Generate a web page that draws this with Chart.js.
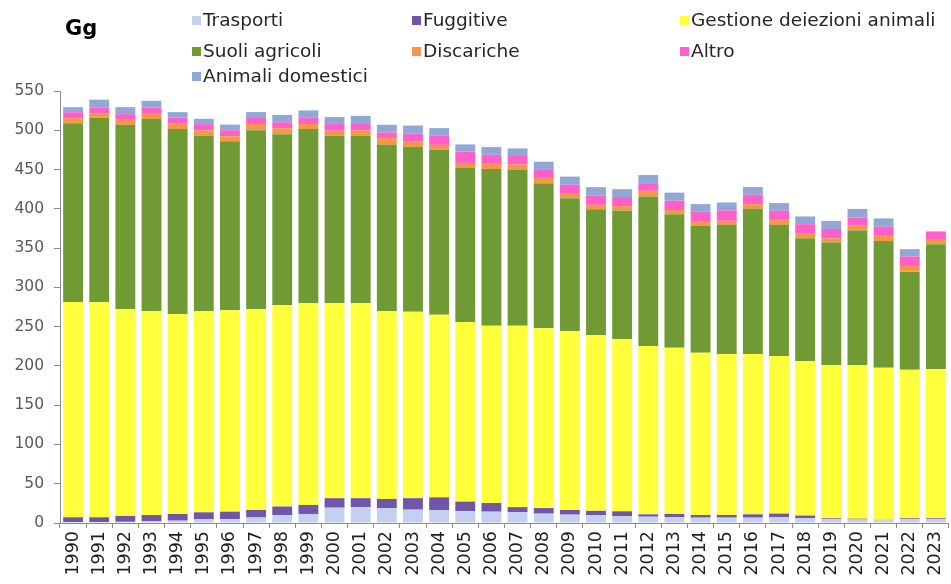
<!DOCTYPE html>
<html>
<head>
<meta charset="utf-8">
<script src="https://cdn.jsdelivr.net/npm/chart.js@4.4.1/dist/chart.umd.min.js"></script>
<style>
  html, body { margin: 0; padding: 0; background: #fff; overflow: hidden; width: 951px; height: 584px; }
  #wrap { position: absolute; left: 0; top: 0; width: 960px; height: 584px; }
  #c { position: absolute; left: 0; top: 0; }
  .unit { position: absolute; left: 65px; top: 16px; font: bold 21px "DejaVu Sans", sans-serif; color: #000; }
  .lg { position: absolute; font: 18.5px "DejaVu Sans", sans-serif; color: #262626; white-space: nowrap; line-height: 22px; height: 22px; }
  .lg span.sw { position: absolute; left: -11px; top: 7px; width: 9px; height: 9px; }
</style>
</head>
<body>
<div id="wrap">
  <canvas id="c" width="960" height="584"></canvas>
  <div class="unit">Gg</div>
  <div id="legend"></div>
</div>
<script>
// Emissioni per anno (Gg), per fonte
const years = ["1990","1991","1992","1993","1994","1995","1996","1997","1998","1999",
               "2000","2001","2002","2003","2004","2005","2006","2007","2008","2009",
               "2010","2011","2012","2013","2014","2015","2016","2017","2018","2019",
               "2020","2021","2022","2023"];

const trasporti = [1.3,1.3,1.5,2.5,3.0,4.7,5.0,7.0,10.2,11.5,
                   19.5,20.2,19.0,17.0,16.5,15.0,14.4,14.0,11.9,10.6,
                   9.8,8.5,8.0,7.3,6.8,6.8,6.8,7.3,6.0,5.0,
                   4.5,3.5,5.0,5.0];

const fuggitive = [6.0,6.0,7.5,7.7,8.5,8.9,9.4,9.6,10.8,11.5,
                   12.1,11.4,11.6,14.6,16.2,12.2,11.1,6.2,7.1,6.0,
                   5.7,6.4,3.0,4.2,3.4,3.4,4.2,4.7,3.5,1.0,
                   1.0,0.5,1.0,1.0];

const gestioneDeiezioni = [274.2,273.7,263.6,259.8,254.5,256.4,256.6,256.0,256.7,257.0,
                           248.4,248.4,239.4,237.4,232.3,228.8,225.5,230.8,229.0,228.0,
                           224.0,219.5,214.5,211.5,206.4,205.1,204.3,200.7,196.9,195.3,
                           195.8,193.5,189.0,190.0];

const suoliAgricoli = [227.5,235.0,234.4,244.6,235.5,223.0,215.0,227.4,217.3,221.5,
                       213.0,213.0,211.5,210.0,210.0,196.0,199.6,199.0,184.7,169.0,
                       160.1,163.6,190.2,170.0,161.4,164.3,184.7,166.9,156.2,155.7,
                       171.0,161.5,125.0,159.0];

const discariche = [6.4,5.5,6.4,6.4,6.8,6.8,6.4,8.0,7.6,6.4,
                    6.4,6.8,8.5,7.0,6.4,6.4,7.6,6.4,6.4,5.5,
                    5.5,5.5,7.2,5.5,5.5,5.1,6.0,6.4,6.4,5.5,
                    6.4,7.6,7.3,6.4];

const altro = [7.6,7.5,7.2,8.0,8.0,8.0,7.6,7.6,7.6,8.5,
               8.5,9.3,7.2,10.0,11.5,14.3,10.6,12.0,11.4,11.5,
               11.5,11.5,9.8,11.9,12.7,13.2,11.9,11.5,11.5,11.9,
               10.2,10.6,12.0,9.8];

const animaliDomestici = [6.4,10.0,8.9,8.5,6.8,6.8,7.2,7.6,9.3,8.9,
                          8.9,9.3,9.8,10.0,9.8,9.3,9.8,8.5,9.5,10.4,
                          11.0,10.0,10.3,10.2,9.8,10.2,9.8,9.8,9.8,10.2,
                          11.0,10.6,9.3,null];

const yTicks = { min: 0, max: 550, step: 50 };

// Serie impilate dal basso verso l'alto
const series = [
  { label: "Trasporti",                  data: trasporti,         color: "#C3D0F0" },
  { label: "Fuggitive",                  data: fuggitive,         color: "#7055A8" },
  { label: "Gestione deiezioni animali", data: gestioneDeiezioni, color: "#FFFF3C" },
  { label: "Suoli agricoli",             data: suoliAgricoli,     color: "#709A33" },
  { label: "Discariche",                 data: discariche,        color: "#F79646" },
  { label: "Altro",                      data: altro,             color: "#FF5FCB" },
  { label: "Animali domestici",          data: animaliDomestici,  color: "#8FA8D6" }
];

// Legenda su tre colonne
const legendCols = [203, 423, 691];
const legendRows = [9, 40, 65];
const legendEl = document.getElementById("legend");
series.forEach((s, i) => {
  const item = document.createElement("div");
  item.className = "lg";
  item.style.left = legendCols[i % 3] + "px";
  item.style.top = legendRows[Math.floor(i / 3)] + "px";
  const sw = document.createElement("span");
  sw.className = "sw";
  sw.style.background = s.color;
  item.appendChild(sw);
  item.appendChild(document.createTextNode(s.label));
  legendEl.appendChild(item);
});

const axisColor = "#8C8C8C";

new Chart(document.getElementById("c"), {
  type: "bar",
  data: {
    labels: years,
    datasets: series.map(s => ({
      label: s.label,
      data: s.data,
      backgroundColor: s.color,
      borderWidth: 0,
      barPercentage: 0.76,
      categoryPercentage: 1.0
    }))
  },
  options: {
    responsive: false,
    animation: false,
    layout: { padding: { top: 91, right: 7, left: 0, bottom: 0 } },
    plugins: { legend: { display: false }, tooltip: { enabled: false } },
    scales: {
      x: {
        stacked: true,
        grid: { display: true, drawOnChartArea: false, drawTicks: true, tickLength: 5, color: axisColor, offset: true },
        border: { display: true, color: axisColor, width: 1 },
        ticks: { minRotation: 90, maxRotation: 90, autoSkip: false, color: "#1E1E1E", font: { family: "DejaVu Sans", size: 17.5 }, padding: 3 },
        afterFit(scale) { scale.height = 61; }
      },
      y: {
        stacked: true,
        min: yTicks.min,
        max: yTicks.max,
        grid: { display: true, drawOnChartArea: false, drawTicks: true, tickLength: 6, color: axisColor },
        border: { display: true, color: axisColor, width: 1 },
        ticks: { stepSize: yTicks.step, color: "#595959", font: { family: "DejaVu Sans", size: 15.5 }, padding: 10 },
        afterFit(scale) { scale.width = 60; }
      }
    }
  }
});
</script>
</body>
</html>
